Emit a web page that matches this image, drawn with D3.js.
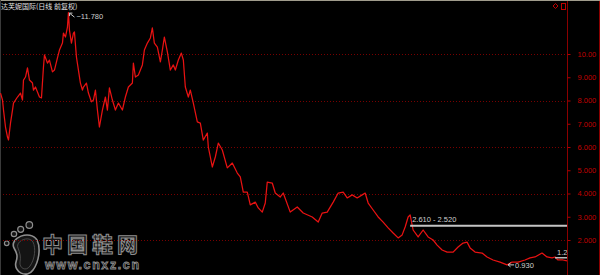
<!DOCTYPE html>
<html>
<head>
<meta charset="utf-8">
<script src="https://cdn.jsdelivr.net/npm/d3@7"></script>
<style>
  body { margin: 0; background: #000; }
  svg { display: block; }
</style>
</head>
<body>
<svg id="chart" width="600" height="275"></svg>
<script>
// title shown top-left
const title = "达芙妮国际(日线 前复权)";

// trading-day position of each sampled close
const days = [0,2,3,5,7,8,10,12,13,17,20,22,23,25,27,29,32,33,35,37,39,41,43,44,47,49,52,54,57,59,
  62,63,65,67,68,69,71,73,74,76,78,80,82,83,86,88,91,93,95,97,99,102,105,107,109,112,115,118,122,125,
  128,132,133,135,138,142,144,147,150,152,154,157,160,162,164,167,170,173,175,178,181,183,185,188,190,193,197,200,203,207,
  208,212,215,218,222,227,232,237,240,243,247,250,255,258,262,265,267,272,275,280,283,290,297,303,312,318,322,327,333,338,
  343,347,352,357,362,365,368,373,378,383,388,393,398,402,405,408,410,413,418,423,428,433,437,442,447,453,458,463,467,470,
  475,482,487,493,500,507,512,518,525,530,535,542,547,552,555,558,563,567];

// closing prices
const closes = [8.32,8.02,7.59,6.86,6.43,6.30,7.03,7.59,7.89,8.15,8.32,8.02,8.88,9.01,9.40,8.88,8.75,8.45,8.58,8.37,
  8.15,8.11,9.44,9.96,9.61,9.74,9.23,9.31,9.83,10.17,10.47,10.90,10.73,11.16,11.78,11.03,10.47,10.90,10.95,9.87,
  9.31,8.75,8.45,8.58,8.75,8.32,7.94,8.02,8.45,7.59,6.86,7.59,8.15,7.59,8.54,8.02,7.59,7.89,7.59,8.15,
  8.58,8.75,9.61,9.01,9.10,9.53,10.17,10.47,10.69,11.12,10.47,10.30,9.66,10.17,10.73,10.09,9.31,9.53,9.31,9.74,
  10.04,9.74,8.58,8.15,8.45,7.89,7.08,7.03,6.30,6.60,6.00,5.14,5.57,6.17,5.87,5.10,5.31,4.88,4.71,4.06,
  4.06,3.51,3.63,3.38,3.20,3.59,4.49,4.45,4.02,3.85,4.02,3.20,3.42,3.16,2.99,2.77,3.16,3.20,3.63,4.02,
  4.06,3.81,3.94,3.81,3.94,4.02,3.59,3.29,2.99,2.77,2.52,2.30,2.09,2.22,2.56,2.99,3.08,2.43,2.13,2.43,
  2.13,2.00,1.78,1.57,1.48,1.48,1.70,1.87,1.91,1.66,1.48,1.44,1.27,1.14,1.05,0.93,1.05,1.05,1.14,1.23,
  1.27,1.44,1.27,1.23,1.27,1.14,1.14,1.10];

const yTicks = [2, 3, 4, 5, 6, 7, 8, 9, 10];
const gridTicks = [2, 4, 6, 8, 10];

// price range marker and last-price marker
const rangeMark = [2.61, 2.52];
const rangeDay = 410;
const lastMark = 1.24;
const lastDay = 555;

const width = 600, height = 275;
const axisX = 567.5;

const data = days.map((d, i) => ({ day: d, close: closes[i] }));

const x = d3.scaleLinear().domain([0, 567]).range([0.5, 567]);
const y = d3.scaleLinear().domain([2, 10]).range([240, 54]);

const svg = d3.select("#chart");

svg.append("rect").attr("width", width).attr("height", height).attr("fill", "#000");

svg.append("defs").append("clipPath").attr("id", "plot")
  .append("rect").attr("x", 0).attr("y", 0).attr("width", axisX).attr("height", height);

//watermark
const wm = svg.append("g").attr("fill", "#141414").attr("stroke", "#8e8e8e");
[[6.7, 243.3, 2.3], [14, 234, 2.7], [20.7, 229.3, 3], [29.3, 225, 3.3]].forEach(c => {
  wm.append("circle").attr("cx", c[0]).attr("cy", c[1]).attr("r", c[2]).attr("stroke-width", 1.2);
});
wm.append("path")
  .attr("d", "M14,248 C9,238 30,229 37,240 C41,248 39,262 33,270 C27,279 13,272 16,262 C18,256 17,253 14,248 Z")
  .attr("stroke-width", 1.6);
wm.append("path")
  .attr("d", "M18,248 C15,241 29,235 33,242 C36,248 35,259 30,266 C26,272 19,268 20,262 C21,257 20,253 18,248 Z")
  .attr("stroke-width", 0.8).attr("fill", "none").attr("stroke", "#555");
wm.append("text").attr("x", 42).attr("y", 252)
  .attr("font-family", "Noto Sans CJK SC").attr("font-weight", 700).attr("font-size", 21)
  .attr("letter-spacing", 4).attr("stroke-width", 1).text("中国鞋网");
wm.append("text").attr("x", 45).attr("y", 269)
  .attr("font-family", "Liberation Sans").attr("font-weight", 700).attr("font-size", 12.5)
  .attr("letter-spacing", 1.6).attr("stroke-width", 0.8).text("www.cnxz.cn");

// grid
svg.append("g").selectAll("line").data(gridTicks).join("line")
  .attr("x1", 0).attr("x2", axisX)
  .attr("y1", d => Math.round(y(d)) + 0.5).attr("y2", d => Math.round(y(d)) + 0.5)
  .attr("stroke", "#780000").attr("stroke-dasharray", "1,2");

// frame
svg.append("line").attr("x1", 0).attr("x2", width).attr("y1", 0.5).attr("y2", 0.5).attr("stroke", "#a09c8c");
svg.append("line").attr("x1", 0.5).attr("x2", 0.5).attr("y1", 0).attr("y2", height).attr("stroke", "#3a3a3a");
svg.append("line").attr("x1", axisX).attr("x2", axisX).attr("y1", 1).attr("y2", height).attr("stroke", "#8b0000");
svg.append("line").attr("x1", 599.5).attr("x2", 599.5).attr("y1", 1).attr("y2", height).attr("stroke", "#8b0000");

// y axis
const yAxis = svg.append("g")
  .attr("transform", `translate(${axisX},0)`)
  .call(d3.axisRight(y).tickValues(yTicks).tickSize(3).tickPadding(7).tickFormat(d3.format(".4r")));
yAxis.select(".domain").remove();
yAxis.selectAll(".tick line").attr("stroke", "#b00000");
yAxis.selectAll(".tick text")
  .attr("fill", "#c00000").attr("font-family", "Liberation Sans").attr("font-size", 7.5);

// price line
const line = d3.line().x(d => x(d.day)).y(d => y(d.close));
svg.append("path").datum(data)
  .attr("clip-path", "url(#plot)")
  .attr("d", line).attr("fill", "none")
  .attr("stroke", "#e81212").attr("stroke-width", 1.25).attr("stroke-linejoin", "round");

const labelFont = { family: "Liberation Sans", size: 7.5, color: "#d0d0d0" };

// range marker
svg.append("line")
  .attr("x1", x(rangeDay)).attr("x2", axisX - 0.5)
  .attr("y1", y(rangeMark[0])).attr("y2", y(rangeMark[0]))
  .attr("stroke", "#c4c4c4").attr("stroke-width", 2);
svg.append("text").attr("x", x(rangeDay) + 2).attr("y", y(rangeMark[0]) - 3.5)
  .attr("font-family", labelFont.family).attr("font-size", labelFont.size).attr("fill", labelFont.color)
  .text(rangeMark.map(d3.format(".3f")).join(" - "));

// last price marker
const lastG = svg.append("g").attr("clip-path", "url(#plot)");
lastG.append("line")
  .attr("x1", x(lastDay)).attr("x2", axisX - 0.5)
  .attr("y1", y(lastMark)).attr("y2", y(lastMark))
  .attr("stroke", "#b8b8b8").attr("stroke-width", 1.5);
lastG.append("text").attr("x", x(lastDay) + 2).attr("y", y(lastMark) - 2.5)
  .attr("font-family", labelFont.family).attr("font-size", labelFont.size).attr("fill", labelFont.color)
  .text(d3.format(".2f")(lastMark));

// max / min labels
const iMax = d3.maxIndex(closes), iMin = d3.minIndex(closes);
const pMax = [x(days[iMax]), y(closes[iMax])];
const pMin = [x(days[iMin]), y(closes[iMin])];

svg.append("path")
  .attr("d", `M${pMax[0] + 1},${pMax[1] + 0.5} l5,4 M${pMax[0] + 1},${pMax[1] + 0.5} l0,3 M${pMax[0] + 1},${pMax[1] + 0.5} l3,0`)
  .attr("stroke", "#ccc").attr("fill", "none");
svg.append("text").attr("x", pMax[0] + 8).attr("y", pMax[1] + 6)
  .attr("font-family", labelFont.family).attr("font-size", labelFont.size).attr("fill", labelFont.color)
  .text("~" + d3.format(".3f")(closes[iMax]));

svg.append("path")
  .attr("d", `M${pMin[0] + 1},${pMin[1]} l6,0 M${pMin[0] + 1},${pMin[1]} l2.5,-2 M${pMin[0] + 1},${pMin[1]} l2.5,2`)
  .attr("stroke", "#ccc").attr("fill", "none");
svg.append("text").attr("x", pMin[0] + 8).attr("y", pMin[1] + 2.7)
  .attr("font-family", labelFont.family).attr("font-size", labelFont.size).attr("fill", labelFont.color)
  .text(d3.format(".3f")(closes[iMin]));

// title
svg.append("text").attr("x", 1).attr("y", 9)
  .attr("font-family", "Noto Sans CJK SC").attr("font-size", 7).attr("fill", "#e0e0e0")
  .text(title);

// top-right icons
svg.append("path").attr("d", "M553,6 L555.5,3.5 L558,6 L555.5,8.5 Z")
  .attr("fill", "none").attr("stroke", "#c00000");
svg.append("rect").attr("x", 561.5).attr("y", 3.5).attr("width", 4).attr("height", 6)
  .attr("fill", "none").attr("stroke", "#c00000");
</script>
</body>
</html>
